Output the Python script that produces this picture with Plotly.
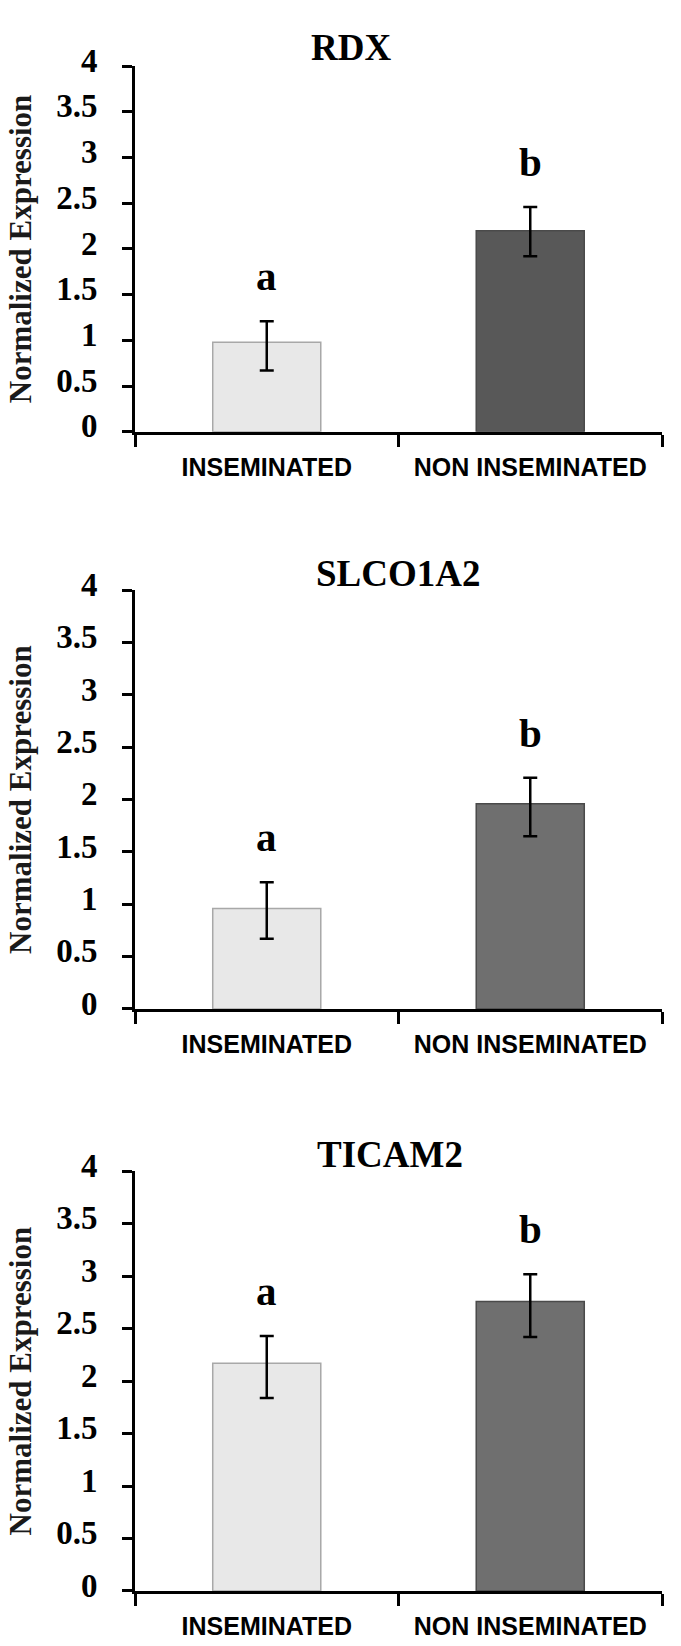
import plotly.graph_objects as go

W, H = 681, 1646

categories = ["INSEMINATED", "NON INSEMINATED"]
genes = ["RDX", "SLCO1A2", "TICAM2"]
letters = ["a", "b"]

rdx_values = [0.98, 2.20]
rdx_err_plus = [0.23, 0.26]
rdx_err_minus = [0.31, 0.28]

slco_values = [0.96, 1.96]
slco_err_plus = [0.25, 0.25]
slco_err_minus = [0.29, 0.31]

ticam_values = [2.17, 2.76]
ticam_err_plus = [0.26, 0.26]
ticam_err_minus = [0.33, 0.34]

y_ticks = [0, 0.5, 1, 1.5, 2, 2.5, 3, 3.5, 4]
y_tick_text = ["0", "0.5", "1", "1.5", "2", "2.5", "3", "3.5", "4"]

panels = [
    (rdx_values, rdx_err_plus, rdx_err_minus),
    (slco_values, slco_err_plus, slco_err_minus),
    (ticam_values, ticam_err_plus, ticam_err_minus),
]
dark_colors = ["#585858", "#6f6f6f", "#6f6f6f"]
light_color = "#e8e8e8"

# pixel layout (top, bottom) of each plot area
rows_px = [(44, 418), (580, 1008), (1174, 1603)]
title_px = [(351, 25), (398, 563), (390, 1157)]
x_px = (135, 662)

SERIF = "Liberation Serif, Times New Roman, serif"
NARROW = "Liberation Sans Narrow, Arial Narrow, sans-serif"

fig = go.Figure()
annotations = []
layout = {}
for i, (vals, ep, em) in enumerate(panels):
    n = "" if i == 0 else str(i + 1)
    fig.add_trace(go.Bar(
        x=categories, y=vals,
        xaxis="x" + n, yaxis="y" + n,
        width=0.41,
        marker=dict(color=[light_color, dark_colors[i]],
                    line=dict(color=["#a8a8a8", "#4a4a4a"], width=1.5)),
        error_y=dict(type="data", symmetric=False, array=ep, arrayminus=em,
                     color="black", thickness=2.5, width=7),
        showlegend=False,
        hoverinfo="skip",
    ))
    top, bot = rows_px[i]
    layout["xaxis" + n] = dict(
        domain=[x_px[0] / W, x_px[1] / W], anchor="y" + n,
        range=[-0.5, 1.5], type="category",
        showline=True, linecolor="black", linewidth=3,
        ticks="outside", tickson="boundaries", ticklen=12, tickwidth=2.5,
        tickcolor="black", showgrid=False, zeroline=False,
        tickfont=dict(family=NARROW, size=25, color="black", weight="bold"),
        ticklabelstandoff=11,
    )
    layout["yaxis" + n] = dict(
        domain=[1 - bot / H, 1 - top / H], anchor="x" + n,
        range=[0, 4], tickvals=y_ticks, ticktext=y_tick_text,
        showline=True, linecolor="black", linewidth=3,
        ticks="outside", ticklen=10, tickwidth=2.5, tickcolor="black",
        showgrid=False, zeroline=False,
        tickfont=dict(family=SERIF, size=33, color="black", weight="bold"),
        ticklabelstandoff=18, ticklabelshift=-6,
        title=dict(text="Normalized Expression",
                   font=dict(family=SERIF, size=31, color="#1a1a1a",
                             weight="bold"),
                   standoff=16),
    )
    for j, cat in enumerate(categories):
        annotations.append(dict(
            x=cat, y=vals[j] + ep[j], xref="x" + n, yref="y" + n,
            text="<b>%s</b>" % letters[j], showarrow=False,
            yanchor="bottom", yshift=20,
            font=dict(family=SERIF, size=41, color="black"),
        ))
    tx, ty = title_px[i]
    annotations.append(dict(
        x=tx / W, y=1 - ty / H, xref="paper", yref="paper",
        text="<b>%s</b>" % genes[i], showarrow=False,
        xanchor="center", yanchor="middle",
        font=dict(family=SERIF, size=37, color="black"),
    ))

fig.update_layout(
    width=W, height=H,
    margin=dict(l=0, r=0, t=0, b=0),
    paper_bgcolor="white", plot_bgcolor="white",
    annotations=annotations,
    hovermode=False,
    **layout,
)

fig.write_html("out.html", config={"displayModeBar": False},
               post_script="document.body.style.margin='0';")
